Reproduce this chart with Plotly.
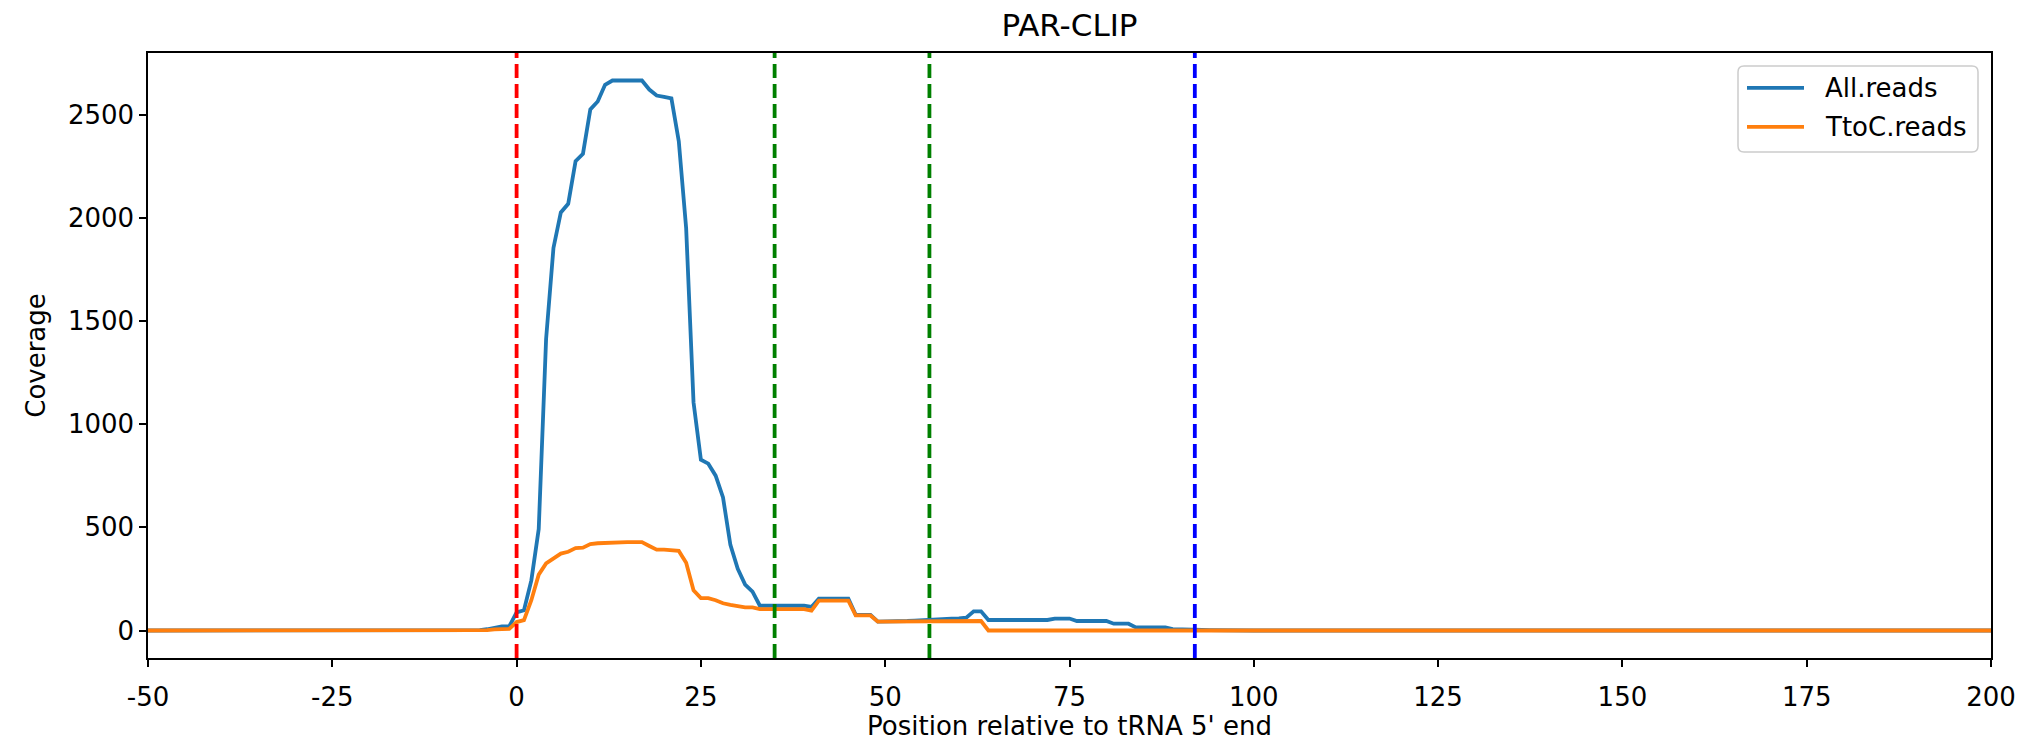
import plotly.graph_objects as go

# ---- data ----
positions = list(range(-50, 201))

all_reads = (
    [0] * 45 +                                   # -50 .. -6
    [2, 6, 12, 20, 20] +                         # -5 .. -1
    [88, 98, 243, 492, 1413, 1855, 2027, 2069, 2276, 2311,   # 0 .. 9
     2527, 2565, 2646, 2667, 2667, 2667, 2667, 2667, 2623, 2594,  # 10 .. 19
     2588, 2580, 2373, 1950, 1106, 828, 809, 751, 645, 415,   # 20 .. 29
     299, 223, 188, 120, 120, 120, 120, 120, 120, 120,        # 30 .. 39
     114, 155, 155, 155, 155, 155, 76, 76, 76, 43,            # 40 .. 49
     43, 44, 45, 46, 48, 49, 51, 53, 55, 57,                  # 50 .. 59
     59, 62, 93, 93, 51, 51, 51, 51, 51, 51,                  # 60 .. 69
     51, 51, 51, 58, 58, 58, 46, 46, 46, 46,                  # 70 .. 79
     46, 33, 33, 33, 15, 15, 15, 15, 15, 7,                   # 80 .. 89
     7, 7, 7, 3, 2, 1] +                                      # 90 .. 95
    [0] * 105                                                 # 96 .. 200
)

ttoc_reads = (
    [0] * 45 +                                   # -50 .. -6
    [0, 2, 5, 8, 8] +                            # -5 .. -1
    [41, 50, 147, 271, 325, 351, 373, 382, 400, 402,         # 0 .. 9
     419, 423, 425, 429, 429, 429, 429, 429, 410, 392,        # 10 .. 19
     392, 388, 386, 329, 195, 157, 157, 147, 132, 124,        # 20 .. 29
     116, 112, 112, 104, 104, 104, 104, 104, 104, 104,        # 30 .. 39
     96, 145, 145, 145, 145, 145, 73, 73, 73, 43,             # 40 .. 49
     43, 43, 43, 44, 44, 44, 45, 45, 45, 46,                  # 50 .. 59
     46, 46, 46, 46] +                                        # 60 .. 63
    [0] * 137                                                 # 64 .. 200
)

series_names = ["All.reads", "TtoC.reads"]
series_colors = ["#1f77b4", "#ff7f0e"]

vlines = [0, 35, 56, 92]
vline_colors = ["#ff0000", "#008000", "#008000", "#0000ff"]

x_ticks = [-50, -25, 0, 25, 50, 75, 100, 125, 150, 175, 200]
y_ticks = [0, 500, 1000, 1500, 2000, 2500]

FONT = "DejaVu Sans"
OFF = 8  # default page body margin
W, H = 2025 - OFF, 741 - OFF
# plot area on screen: x 148..1991, y 53..658.5
ML, MR, MT, MB = 148 - OFF, 34, 53 - OFF, 82.5
PW, PH = W - ML - MR, H - MT - MB


def px_x(X):  # screen pixel -> paper
    return (X - OFF - ML) / PW


def px_y(Y):
    return (H - MB - (Y - OFF)) / PH


fig = go.Figure()
for name, ys, col in zip(series_names, [all_reads, ttoc_reads], series_colors):
    fig.add_trace(go.Scatter(x=positions, y=ys, mode="lines", name=name,
                             line=dict(color=col, width=3.8), showlegend=False))

for xv, col in zip(vlines, vline_colors):
    fig.add_shape(type="line", x0=xv, x1=xv, xref="x", y0=0, y1=1, yref="paper",
                  line=dict(color=col, width=3.8, dash="14px,6px"), layer="above")

# legend box (matplotlib-style, rounded corners)
lx0, lx1, ly0, ly1, r = 1738, 1978, 66, 152, 6
path = (f"M {px_x(lx0 + r)},{px_y(ly0)} L {px_x(lx1 - r)},{px_y(ly0)} "
        f"Q {px_x(lx1)},{px_y(ly0)} {px_x(lx1)},{px_y(ly0 + r)} "
        f"L {px_x(lx1)},{px_y(ly1 - r)} Q {px_x(lx1)},{px_y(ly1)} {px_x(lx1 - r)},{px_y(ly1)} "
        f"L {px_x(lx0 + r)},{px_y(ly1)} Q {px_x(lx0)},{px_y(ly1)} {px_x(lx0)},{px_y(ly1 - r)} "
        f"L {px_x(lx0)},{px_y(ly0 + r)} Q {px_x(lx0)},{px_y(ly0)} {px_x(lx0 + r)},{px_y(ly0)} Z")
fig.add_shape(type="path", path=path, xref="paper", yref="paper",
              line=dict(color="#cccccc", width=1.5), fillcolor="rgba(255,255,255,0.8)",
              layer="above")
for i, (name, col) in enumerate(zip(series_names, series_colors)):
    yrow = 88 + 39 * i
    fig.add_shape(type="line", xref="paper", yref="paper",
                  x0=px_x(1747), x1=px_x(1804), y0=px_y(yrow), y1=px_y(yrow),
                  line=dict(color=col, width=3.8), layer="above")
    fig.add_annotation(text=name, xref="paper", yref="paper", x=px_x(1823), y=px_y(yrow),
                       xanchor="left", yanchor="middle", showarrow=False,
                       font=dict(family=FONT, size=26, color="black"))

ymax = max(max(all_reads), max(ttoc_reads))
yr = [-0.05 * ymax, 1.05 * ymax]

axis_common = dict(
    showgrid=False, zeroline=False, showline=True, linecolor="black", linewidth=1.5,
    mirror=True, ticks="outside", ticklen=7, tickwidth=1.5, tickcolor="black",
    tickfont=dict(family=FONT, size=26, color="black"), automargin=False,
)

fig.update_layout(
    width=W, height=H,
    margin=dict(l=ML, r=MR, t=MT, b=MB, autoexpand=False),
    paper_bgcolor="white", plot_bgcolor="white",
    font=dict(family=FONT, size=26, color="black"),
    title=dict(text="PAR-CLIP", x=0.5, xref="paper", xanchor="center",
               y=1 - 17 / H, yref="container", yanchor="middle",
               font=dict(family=FONT, size=31, color="black")),
    xaxis=dict(range=[-50, 200], tickvals=x_ticks, ticktext=[str(v) for v in x_ticks],
               ticklabelstandoff=8,
               title=dict(text="Position relative to tRNA 5' end", standoff=6,
                          font=dict(family=FONT, size=26)),
               **axis_common),
    yaxis=dict(range=yr, tickvals=y_ticks, ticktext=[str(v) for v in y_ticks],
               title=dict(text="Coverage", standoff=15, font=dict(family=FONT, size=26)),
               **axis_common),
    showlegend=False,
)

fig.write_html("out.html")
